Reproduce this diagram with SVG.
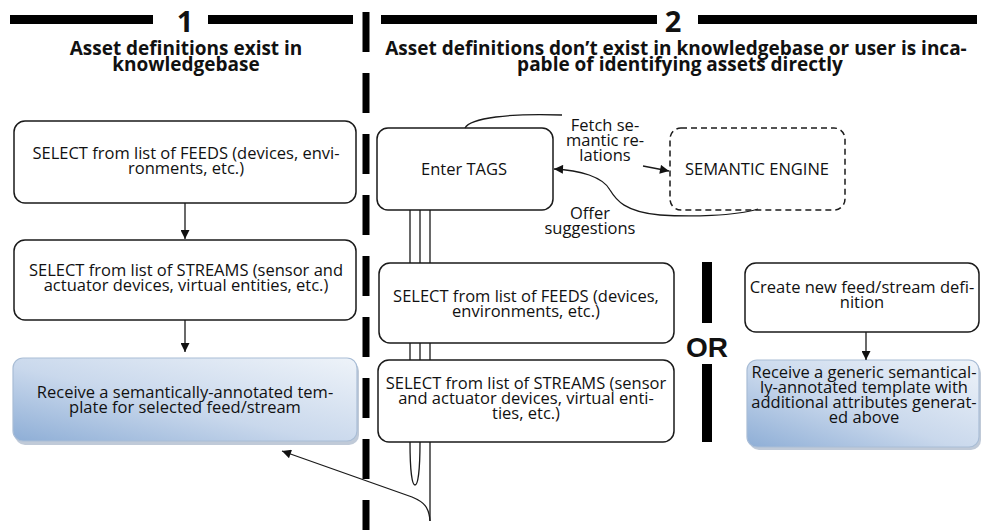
<svg xmlns="http://www.w3.org/2000/svg" width="981" height="530" viewBox="0 0 981 530">
  <style>
    .box { fill: #ffffff; stroke: #1a1a1a; stroke-width: 1.5; }
    .blue { fill: url(#blueFill); stroke: #a9bdd6; stroke-width: 1.2; }
    .shadow { fill: #8c9fb8; opacity: 0.55; }
    .engine { fill: #ffffff; stroke: #1a1a1a; stroke-width: 1.5; stroke-dasharray: 6 4; }
    .txt { font-family: "Open Sans", "Liberation Sans", sans-serif; font-size: 16.5px; fill: #111111; text-anchor: middle; }
    .head { font-family: "Open Sans", "Liberation Sans", sans-serif; font-size: 19px; font-weight: bold; fill: #111111; text-anchor: middle; }
    .num { font-family: "Open Sans", "Liberation Sans", sans-serif; font-size: 29px; font-weight: bold; fill: #111111; text-anchor: middle; }
    .or { font-family: "Liberation Sans", Arial, sans-serif; font-size: 28px; font-weight: bold; fill: #111111; text-anchor: middle; }
    .bar { fill: #000000; }
    .line { fill: none; stroke: #1a1a1a; stroke-width: 1.3; }
    .arrow { fill: none; stroke: #1a1a1a; stroke-width: 1.3; marker-end: url(#head); }
  </style>
  <defs>
    <linearGradient id="blueFill" x1="0" y1="1" x2="1" y2="0">
      <stop offset="0" stop-color="#8eaed6"/>
      <stop offset="0.45" stop-color="#c9d8ec"/>
      <stop offset="1" stop-color="#eef3f9"/>
    </linearGradient>
    <marker id="head" viewBox="0 0 10 10" refX="10" refY="5" markerWidth="10" markerHeight="9" markerUnits="userSpaceOnUse" orient="auto">
      <path d="M0,0 L10,5 L0,10 Z" fill="#111111"/>
    </marker>
  </defs>

  <!-- section headers -->
  <g id="header-1">
    <rect class="bar" x="10" y="15" width="143" height="9"/>
    <text class="num" x="185" y="32">1</text>
    <rect class="bar" x="208" y="15" width="145" height="9"/>
    <text class="head" x="186" y="55">Asset definitions exist in</text>
    <text class="head" x="186" y="71">knowledgebase</text>
  </g>
  <g id="header-2">
    <rect class="bar" x="381" y="15" width="276" height="9"/>
    <text class="num" x="673" y="32">2</text>
    <rect class="bar" x="698" y="15" width="279" height="9"/>
    <text class="head" x="676" y="55">Asset definitions don’t exist in knowledgebase or user is inca-</text>
    <text class="head" x="680" y="71">pable of identifying assets directly</text>
  </g>

  <!-- dashed divider between the two scenarios -->
  <line x1="366" y1="12" x2="366" y2="530" stroke="#000000" stroke-width="7" stroke-dasharray="40 21"/>

  <!-- scenario 1 -->
  <g id="feeds-1">
    <rect class="box" x="14" y="121" width="342" height="82" rx="11"/>
    <text class="txt" x="186" y="159">SELECT from list of FEEDS (devices, envi-</text>
    <text class="txt" x="186" y="174">ronments, etc.)</text>
  </g>
  <g id="streams-1">
    <rect class="box" x="14" y="240" width="342" height="80" rx="11"/>
    <text class="txt" x="186" y="276">SELECT from list of STREAMS (sensor and</text>
    <text class="txt" x="186" y="291">actuator devices, virtual entities, etc.)</text>
  </g>
  <g id="template-1">
    <rect class="shadow" x="15" y="361" width="344" height="84" rx="10"/>
    <rect class="blue" x="13" y="358" width="344" height="83" rx="10"/>
    <text class="txt" x="185" y="398">Receive a semantically-annotated tem-</text>
    <text class="txt" x="185" y="413">plate for selected feed/stream</text>
  </g>

  <!-- scenario 2 -->
  <g id="enter-tags">
    <rect class="box" x="377" y="128" width="176" height="82" rx="11"/>
    <text class="txt" x="464" y="175">Enter TAGS</text>
  </g>
  <g id="semantic-engine">
    <rect class="engine" x="670" y="128" width="175" height="82" rx="11"/>
    <text class="txt" x="757" y="175">SEMANTIC ENGINE</text>
  </g>
  <g id="feeds-2">
    <rect class="box" x="379" y="263" width="295" height="80" rx="11"/>
    <text class="txt" x="526" y="302">SELECT from list of FEEDS (devices,</text>
    <text class="txt" x="526" y="317">environments, etc.)</text>
  </g>
  <g id="streams-2">
    <rect class="box" x="378" y="360" width="296" height="82" rx="11"/>
    <text class="txt" x="526" y="389">SELECT from list of STREAMS (sensor</text>
    <text class="txt" x="526" y="404">and actuator devices, virtual enti-</text>
    <text class="txt" x="526" y="419">ties, etc.)</text>
  </g>
  <g id="or-split">
    <rect class="bar" x="702" y="262" width="10" height="61"/>
    <text class="or" x="707" y="357">OR</text>
    <rect class="bar" x="702" y="364" width="10" height="78"/>
  </g>
  <g id="create-definition">
    <rect class="box" x="745" y="263" width="234" height="69" rx="11"/>
    <text class="txt" x="862" y="293">Create new feed/stream defi-</text>
    <text class="txt" x="862" y="308">nition</text>
  </g>
  <g id="template-2">
    <rect class="shadow" x="749" y="363" width="232" height="87" rx="10"/>
    <rect class="blue" x="747" y="360" width="232" height="87" rx="10"/>
    <text class="txt" x="864" y="378">Receive a generic semantical-</text>
    <text class="txt" x="864" y="393">ly-annotated template with</text>
    <text class="txt" x="864" y="408">additional attributes generat-</text>
    <text class="txt" x="864" y="423">ed above</text>
  </g>

  <!-- edge labels -->
  <g id="labels">
    <text class="txt" x="605" y="131">Fetch se-</text>
    <text class="txt" x="605" y="146">mantic re-</text>
    <text class="txt" x="605" y="161">lations</text>
    <text class="txt" x="590" y="219">Offer</text>
    <text class="txt" x="590" y="234">suggestions</text>
  </g>

  <!-- connectors -->
  <g id="connectors">
    <path class="arrow" d="M185,203 L185,239"/>
    <path class="arrow" d="M185,320 L185,352"/>
    <path class="arrow" d="M866,332 L866,360"/>
    <!-- request to the semantic engine -->
    <path class="line" d="M465,128 C470,118 510,113 562,115"/>
    <path class="arrow" d="M643,166 L669,171"/>
    <!-- suggestions returned to tag entry -->
    <path class="arrow" d="M758,209 C735,216 690,217 660,215 C625,212 616,200 610,190 C603,177 580,170 554,169"/>
    <!-- bundle of paths running down through the scenario 2 steps -->
    <path class="line" d="M410,210 L410,263 M420,210 L420,263 M430,210 L430,263"/>
    <path class="line" d="M410,343 L410,360 M420,343 L420,360 M430,343 L430,360"/>
    <path class="line" d="M410,442 C410,470 412,485 415,485 C418,485 420,470 420,442"/>
    <path class="line" d="M430,442 L430,521"/>
    <path class="arrow" d="M430,521 C429,507 424,502 412,497 L282,451"/>
  </g>
</svg>
